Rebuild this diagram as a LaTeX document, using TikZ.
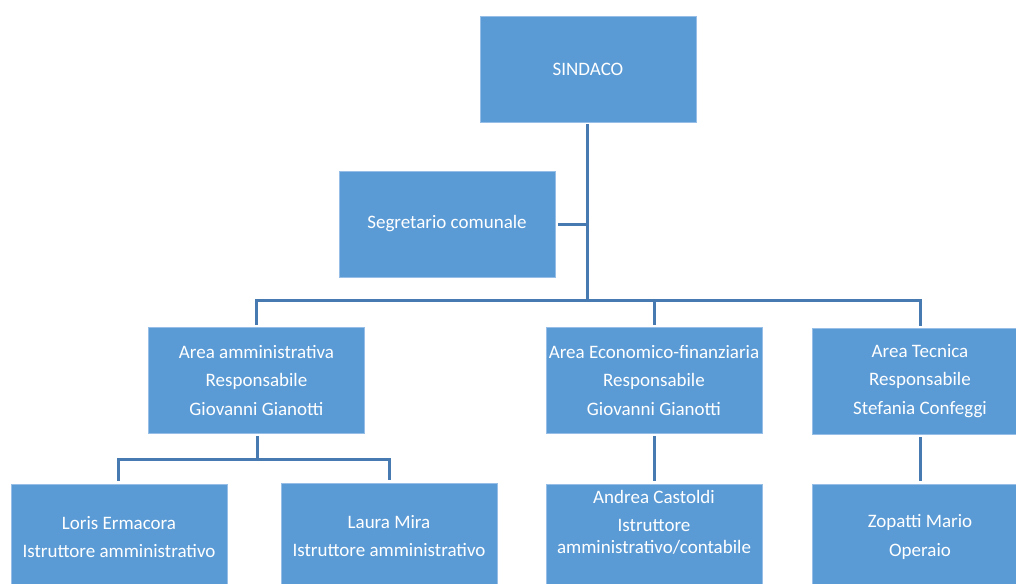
\documentclass[tikz,border=0pt]{standalone}
\usepackage{fontspec}
\setmainfont{Carlito}
\usetikzlibrary{calc}
\definecolor{boxfill}{RGB}{91,155,213}
\definecolor{boxline}{RGB}{150,190,230}
\definecolor{connc}{RGB}{72,122,178}
\begin{document}
\begin{tikzpicture}[x=1pt,y=-1pt,
  box/.style={draw=boxline, line width=0.6pt, fill=boxfill, minimum width=216pt, minimum height=106pt,
    inner sep=0pt, text=white, align=center, font=\fontsize{19}{28.5}\selectfont},
  conn/.style={draw=connc, line width=3pt}]
\useasboundingbox (0,0) rectangle (1016,583);
\clip (0,0) rectangle (1016,583);
% connector junctions
\coordinate (j) at (587,300);
\coordinate (k) at (257,459);
% boxes
\node[box] (sindaco) at (588,69) {SINDACO};
\node[box] (segr) at (447,224) {Segretario comunale};
\node[box] (amm) at (256.5,380) {Area amministrativa\\Responsabile\\Giovanni Gianotti};
\node[box] (eco) at (654,380) {Area Economico-finanziaria\\Responsabile\\Giovanni Gianotti};
\node[box] (tec) at (920,381) {Area Tecnica\\Responsabile\\Stefania Confeggi};
\node[box] (loris) at (119,537) {Loris Ermacora\\Istruttore amministrativo};
\node[box] (laura) at (389,536) {Laura Mira\\Istruttore amministrativo};
\node[box] (andrea) at (654,537) {Andrea Castoldi\\Istruttore\\[-7pt]amministrativo/contabile\\[-6pt]\strut};
\node[box] (zop) at (920,537) {Zopatti Mario\\Operaio};
% lines
\draw[conn] ([yshift=-2pt]sindaco.south -| j) -- (j);
\draw[conn] ([xshift=3pt]segr.east) -- (segr.east -| j);
\draw[conn] ([yshift=2pt]amm.north) |- (j) -| ([yshift=2pt]tec.north);
\draw[conn] ([yshift=2pt]eco.north) -- (eco.north |- j);
\draw[conn] ([yshift=-3pt]amm.south -| k) -- (k);
\draw[conn] ([yshift=3pt,xshift=-1pt]loris.north) |- (k) -| ([yshift=3pt]laura.north);
\draw[conn] ([yshift=-3pt]eco.south) -- ([yshift=3pt]andrea.north);
\draw[conn] ([yshift=-3pt]tec.south) -- ([yshift=3pt]zop.north);
\end{tikzpicture}
\end{document}
